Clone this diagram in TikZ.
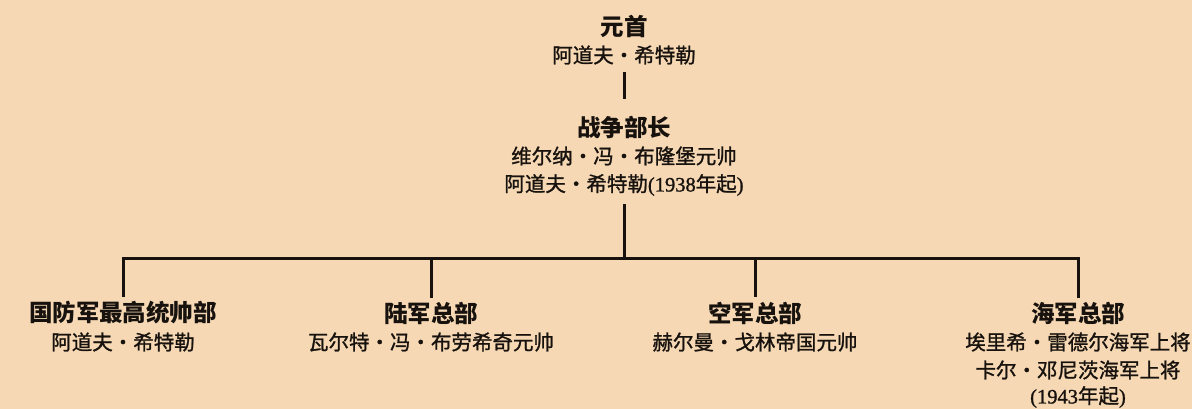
\documentclass[tikz,border=0pt]{standalone}
\usepackage{fontspec}
\setmainfont{Noto Sans CJK SC}
\newfontfamily\bodyfont{Noto Sans CJK SC}[FakeBold=1.2]
\newfontfamily\lat{Liberation Serif}[FakeBold=1.2]
\newcommand\dt{·}
\definecolor{bg}{RGB}{246,217,180}
\definecolor{ink}{RGB}{24,18,14}
\tikzset{
  x=1pt, y=-1pt,
  ttl/.style={inner sep=0pt, text=ink, font=\bfseries\fontsize{23.5}{27}\selectfont},
  bdy/.style={inner sep=0pt, text=ink, font=\bodyfont\fontsize{20.5}{25}\selectfont},
  conn/.style={draw=ink, line width=3pt}
}
\begin{document}
\begin{tikzpicture}
\fill[bg] (0,0) rectangle (1192,409);
\useasboundingbox (0,0) rectangle (1192,409);
% top
\node[ttl] (fuhrer) at (624,26) {元首};
\node[bdy] (fuhrerA) at (624,55) {阿道夫\dt 希特勒};
% war minister
\node[ttl] (war) at (624,127) {战争部长};
\node[bdy] (warA) at (624,156) {维尔纳\dt 冯\dt 布隆堡元帅};
\node[bdy] (warB) at (624,185) {阿道夫\dt 希特勒{\lat(1938}年起{\lat)}};
% bottom row
\node[ttl] (okw) at (123,313) {国防军最高统帅部};
\node[bdy] (okwA) at (123,342) {阿道夫\dt 希特勒};
\node[ttl] (okh) at (431,313) {陆军总部};
\node[bdy] (okhA) at (431,342) {瓦尔特\dt 冯\dt 布劳希奇元帅};
\node[ttl] (okl) at (755,313) {空军总部};
\node[bdy] (oklA) at (755,342) {赫尔曼\dt 戈林帝国元帅};
\node[ttl] (okm) at (1078,313) {海军总部};
\node[bdy] (okmA) at (1078,342) {埃里希\dt 雷德尔海军上将};
\node[bdy] (okmB) at (1078,370) {卡尔\dt 邓尼茨海军上将};
\node[bdy] (okmC) at (1078,397) {{\lat(1943}年起{\lat)}};
% connectors
\coordinate (j) at (624,258);
\draw[conn] ([yshift=-7pt]fuhrerA.south) -- ([yshift=16pt]war.north);
\draw[conn] ([yshift=-8pt]warB.south) -- (j);
\draw[conn, line cap=rect] (okw.north |- j) -- (okm.north |- j);
\draw[conn] (okw.north |- j) -- ([yshift=4pt]okw.north);
\draw[conn] (okh.north |- j) -- ([yshift=4pt]okh.north);
\draw[conn] (okl.north |- j) -- ([yshift=4pt]okl.north);
\draw[conn] (okm.north |- j) -- ([yshift=4pt]okm.north);
\end{tikzpicture}
\end{document}
